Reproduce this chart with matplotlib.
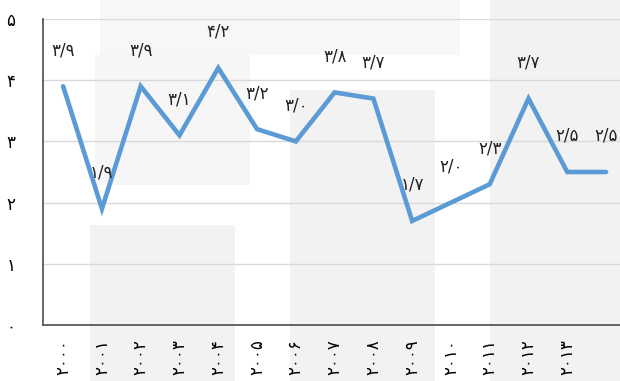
import matplotlib.pyplot as plt
from matplotlib.patches import Rectangle

years = ['۲۰۰۰', '۲۰۰۱', '۲۰۰۲', '۲۰۰۳', '۲۰۰۴', '۲۰۰۵', '۲۰۰۶',
         '۲۰۰۷', '۲۰۰۸', '۲۰۰۹', '۲۰۱۰', '۲۰۱۱', '۲۰۱۲', '۲۰۱۳']
values = [3.9, 1.9, 3.9, 3.1, 4.2, 3.2, 3.0, 3.8, 3.7, 1.7, 2.0, 2.3, 3.7, 2.5, 2.5]
y_ticks = [0, 1, 2, 3, 4, 5]

fa_digits = str.maketrans('0123456789.', '۰۱۲۳۴۵۶۷۸۹/')


def fa(v):
    return str(v).translate(fa_digits)


W, H = 620, 381
fig = plt.figure(figsize=(W / 100, H / 100), dpi=100, facecolor='white')

# faded background blocks on their own axes (pixel boxes: x0, y0 from top, x1, y1, colour)
bg = fig.add_axes([0, 0, 1, 1], zorder=-1)
bg.set_xlim(0, W)
bg.set_ylim(H, 0)
bg.axis('off')
blocks = [
    (100, 0, 460, 55, '#f7f7f7'),
    (95, 55, 250, 185, '#f6f6f6'),
    (90, 225, 235, 381, '#f2f2f2'),
    (290, 90, 435, 381, '#f2f2f2'),
    (490, 0, 620, 381, '#f2f2f2'),
]
for x0, y0, x1, y1, c in blocks:
    bg.add_patch(Rectangle((x0, y0), x1 - x0, y1 - y0, color=c, linewidth=0))

ax = fig.add_axes([43 / W, 1 - 325 / H, 1 - 43 / W, (325 - 19) / H])
ax.set_facecolor('none')

x = list(range(len(values)))
ax.plot(x, values, color='#5b9bd5', linewidth=3.3, solid_capstyle='round',
        solid_joinstyle='miter', zorder=3)

for xi, v in zip(x, values):
    ax.annotate(fa(v), (xi, v), xytext=(0, 26), textcoords='offset points',
                ha='center', va='center', fontsize=12, color='#222222', zorder=4)

ax.set_xlim(-0.52, 14.36)
ax.set_ylim(0, 5)
ax.set_yticks(y_ticks)
ax.set_yticklabels([fa(t) for t in y_ticks], fontsize=12)
ax.set_xticks(range(len(years)))
ax.set_xticklabels(years, rotation=90, fontsize=12)
ax.tick_params(axis='y', length=0, pad=20)
ax.tick_params(axis='x', length=0, pad=10)

ax.grid(axis='y', color='#d9d9d9', linewidth=1)
ax.set_axisbelow(True)
for s in ['top', 'right']:
    ax.spines[s].set_visible(False)
for s in ['left', 'bottom']:
    ax.spines[s].set_color('#595959')
    ax.spines[s].set_linewidth(1.3)

fig.savefig('out.png', dpi=100)
